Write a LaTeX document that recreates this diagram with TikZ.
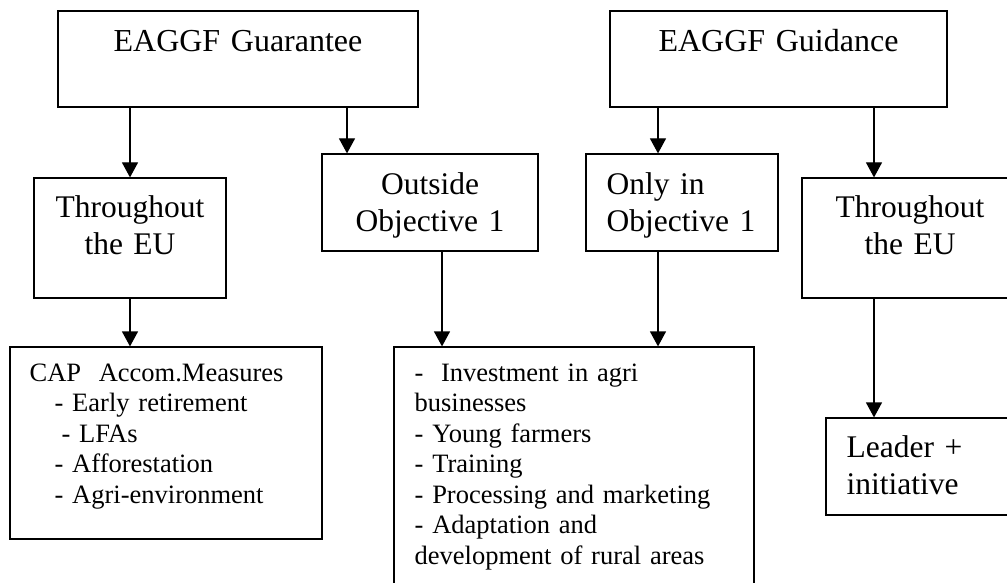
\documentclass[tikz,border=0pt]{standalone}
\usepackage{fontspec}
\setmainfont{Liberation Serif}
\usetikzlibrary{arrows.meta}

\tikzset{
  box/.style={draw, rectangle, line width=1.2pt, inner sep=0pt},
  arr/.style={line width=1.2pt, -{Triangle[length=15pt,width=16pt]}},
  hdrtxt/.style={font=\fontsize{32}{37}\selectfont, inner sep=0pt, text width=330pt, align=center, anchor=base},
  midtxt/.style={font=\fontsize{31.5}{37}\selectfont, inner sep=0pt, text width=190pt, align=center, anchor=base},
  midleft/.style={font=\fontsize{31.5}{37}\selectfont, inner sep=0pt, text width=175pt, align=left, anchor=base west},
  listtxt/.style={font=\fontsize{26.5}{30.5}\selectfont, inner sep=0pt, text width=335pt, align=left, anchor=base west},
}

\begin{document}
\begin{tikzpicture}[x=1pt, y=1pt]
  \useasboundingbox (0,0) rectangle (1007,582);
  \clip (0,0) rectangle (1007,582);

  % the two funds
  \node[box, minimum width=360pt, minimum height=96pt] (guar) at (238,523) {};
  \node[box, minimum width=337pt, minimum height=96pt] (guid) at (778.5,523) {};
  \node[hdrtxt] (guartxt) at ([yshift=-41pt]guar.north) {EAGGF Guarantee};
  \node[hdrtxt] (guidtxt) at ([yshift=-41pt]guid.north) {EAGGF Guidance};

  % where they apply
  \node[box, minimum width=192pt, minimum height=120pt] (tleft) at (130,344) {};
  \node[box, minimum width=216pt, minimum height=97pt] (outside) at (430,379.5) {};
  \node[box, minimum width=192pt, minimum height=97pt] (onlyin) at (682,379.5) {};
  \node[box, minimum width=216pt, minimum height=120pt] (tright) at (910,344) {};
  \node[midtxt] (tlefttxt) at ([yshift=-40pt]tleft.north) {Throughout\\the EU};
  \node[midtxt] (outsidetxt) at ([yshift=-41pt]outside.north) {Outside\\Objective 1};
  \node[midleft] (onlyintxt) at ([xshift=21pt,yshift=-41pt]onlyin.north west) {Only in\\Objective 1};
  \node[midtxt] (trighttxt) at ([yshift=-40pt]tright.north) {Throughout\\the EU};

  % measures
  \node[box, minimum width=312pt, minimum height=192pt] (cap) at (166,139) {};
  \node[box, minimum width=360pt, minimum height=248pt] (invest) at (574,111) {};
  \node[box, minimum width=192pt, minimum height=97pt] (leader) at (922,115.5) {};
  \node[listtxt] (captxt) at ([xshift=20pt,yshift=-35pt]cap.north west)
    {CAP\ \ Accom.Measures\\
     \hspace*{25pt}- Early retirement\\
     \hspace*{32pt}- LFAs\\
     \hspace*{25pt}- Afforestation\\
     \hspace*{25pt}- Agri-environment};
  \node[listtxt] (investtxt) at ([xshift=21pt,yshift=-35pt]invest.north west)
    {-\ \ Investment in agri\\
     businesses\\
     - Young farmers\\
     - Training\\
     - Processing and marketing\\
     - Adaptation and\\
     development of rural areas};
  \node[midleft] (leadertxt) at ([xshift=21pt,yshift=-40pt]leader.north west) {Leader +\\initiative};

  % connectors
  \coordinate (p2) at ([xshift=-83pt]outside.north);
  \coordinate (p3) at ([xshift=-24pt]onlyin.north);
  \coordinate (p4) at ([xshift=-36pt]tright.north);
  \coordinate (p6) at ([xshift=12pt]outside.south);
  \coordinate (p7) at ([xshift=-24pt]onlyin.south);
  \coordinate (p8) at ([xshift=-36pt]tright.south);

  \draw[arr] (tleft.north |- guar.south) -- (tleft.north);
  \draw[arr] (p2 |- guar.south) -- (p2);
  \draw[arr] (p3 |- guid.south) -- (p3);
  \draw[arr] (p4 |- guid.south) -- (p4);
  \draw[arr] (tleft.south) -- (tleft.south |- cap.north);
  \draw[arr] (p6) -- (p6 |- invest.north);
  \draw[arr] (p7) -- (p7 |- invest.north);
  \draw[arr] (p8) -- (p8 |- leader.north);
\end{tikzpicture}
\end{document}
